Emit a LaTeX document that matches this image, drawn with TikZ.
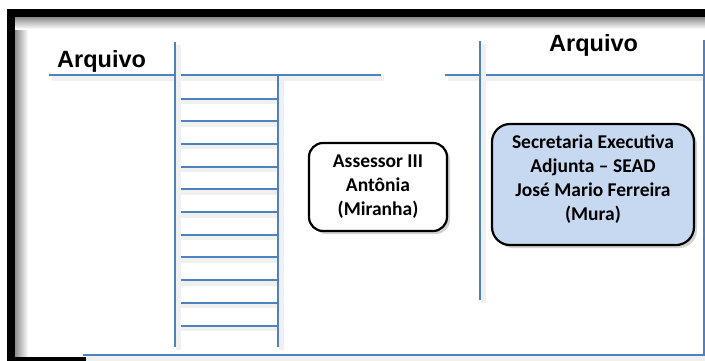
\documentclass[tikz,border=0pt]{standalone}
\usepackage{fontspec}
\setmainfont{Carlito}
\newfontfamily\arialb{Liberation Sans}
\usepackage{tikz}
\usetikzlibrary{shadows}

\definecolor{azul}{RGB}{79,129,189}
\definecolor{azulclaro}{RGB}{198,217,241}

\tikzset{
  linha/.style={draw=azul, line width=2pt,
    preaction={draw=black!6, line width=5pt, transform canvas={shift={(3pt,-3pt)}}}},
  sala/.style={draw=black, line width=2.2pt, rounded corners=14pt, fill=white,
    drop shadow={shadow xshift=3pt, shadow yshift=-3pt, opacity=.35}},
  rotulo/.style={font=\bfseries\fontsize{19.5}{24}\selectfont, align=center},
  titulo/.style={font=\arialb\bfseries\fontsize{23.5}{27}\selectfont, inner sep=0pt}
}

\begin{document}
\begin{tikzpicture}[x=1pt,y=-1pt]
  \useasboundingbox (0,0) rectangle (705,360);
  \clip (0,0) rectangle (705,360);
  \fill[white] (0,0) rectangle (705,360);

  % moldura
  \shade[left color=black!45, right color=white] (15,17) rectangle (28,357);
  \shade[top color=black!45, bottom color=white] (15,17) rectangle (705,29);
  \draw[line width=8pt] (11,13) rectangle (712,361);

  % estante
  \foreach \k in {0,...,10}
    {
      \draw[linha] (175,98.5+22.7*\k) -- (278,98.5+22.7*\k);
    }
  \draw[linha] (49,75) -- (381,75);
  \draw[linha] (175,42) -- (175,347);
  \draw[linha] (278,75) -- (278,347);

  \draw[linha] (445,75) -- (710,75);
  \draw[linha] (480,41) -- (480,300);
  \draw[linha] (704,40) -- (704,355);
  \draw[linha] (83,355) -- (710,355);

  \node[titulo, anchor=base west] (arqesq) at (57,67) {Arquivo};
  \node[titulo, anchor=base west] (arqdir) at (549,51) {Arquivo};

  \node[sala, rotulo, minimum width=138, minimum height=88] (assessor) at (378,187)
    {Assessor III\\Antônia\\(Miranha)};

  \node[sala, fill=azulclaro, rounded corners=18pt, minimum width=202, minimum height=121] (sead) at (593,184.5) {};
  \node[rotulo] (seadtxt) at (593,179)
    {Secretaria Executiva\\Adjunta -- SEAD\\José Mario Ferreira\\(Mura)};
\end{tikzpicture}
\end{document}
